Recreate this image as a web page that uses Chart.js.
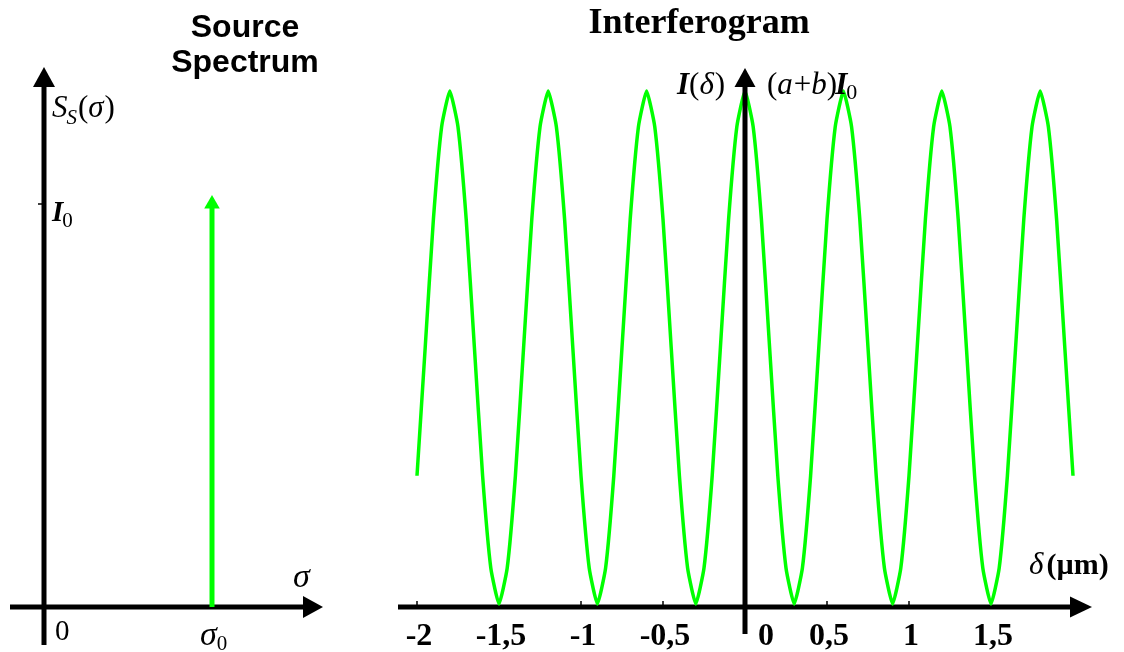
<!DOCTYPE html>
<html>
<head>
<meta charset="utf-8">
<script src="https://cdn.jsdelivr.net/npm/chart.js@4.4.1/dist/chart.umd.min.js"></script>
<style>
  html, body { margin: 0; padding: 0; background: #ffffff; }
  #wrap { position: relative; width: 1124px; height: 652px; overflow: hidden; }
  canvas { position: absolute; left: 0; top: 0; }
</style>
</head>
<body>
<div id="wrap">
  <canvas id="spectrum" width="1124" height="652"></canvas>
  <canvas id="interferogram" width="1124" height="652"></canvas>
</div>
<script>
// ---------- DATA ----------
// Source spectrum: a single monochromatic line at sigma0 with intensity I0 (relative units)
const sourceWavenumber = [1];      // sigma0
const sourceIntensity = [1];       // I0

// Interferogram I(delta), delta in micrometres, intensity relative to (a+b)I0
const opticalPathDifference = [
  -2.00, -1.95, -1.90, -1.85, -1.80, -1.75, -1.70, -1.65, -1.60, -1.55,
  -1.50, -1.45, -1.40, -1.35, -1.30, -1.25, -1.20, -1.15, -1.10, -1.05,
  -1.00, -0.95, -0.90, -0.85, -0.80, -0.75, -0.70, -0.65, -0.60, -0.55,
  -0.50, -0.45, -0.40, -0.35, -0.30, -0.25, -0.20, -0.15, -0.10, -0.05,
   0.00,  0.05,  0.10,  0.15,  0.20,  0.25,  0.30,  0.35,  0.40,  0.45,
   0.50,  0.55,  0.60,  0.65,  0.70,  0.75,  0.80,  0.85,  0.90,  0.95,
   1.00,  1.05,  1.10,  1.15,  1.20,  1.25,  1.30,  1.35,  1.40,  1.45,
   1.50,  1.55,  1.60,  1.65,  1.70,  1.75,  1.80,  1.85,  1.90,  1.95,
   2.00
];
const interferogramIntensity = [
  0.25, 0.50, 0.75, 0.93, 1.00, 0.93, 0.75, 0.50, 0.25, 0.07,
  0.00, 0.07, 0.25, 0.50, 0.75, 0.93, 1.00, 0.93, 0.75, 0.50,
  0.25, 0.07, 0.00, 0.07, 0.25, 0.50, 0.75, 0.93, 1.00, 0.93,
  0.75, 0.50, 0.25, 0.07, 0.00, 0.07, 0.25, 0.50, 0.75, 0.93,
  1.00, 0.93, 0.75, 0.50, 0.25, 0.07, 0.00, 0.07, 0.25, 0.50,
  0.75, 0.93, 1.00, 0.93, 0.75, 0.50, 0.25, 0.07, 0.00, 0.07,
  0.25, 0.50, 0.75, 0.93, 1.00, 0.93, 0.75, 0.50, 0.25, 0.07,
  0.00, 0.07, 0.25, 0.50, 0.75, 0.93, 1.00, 0.93, 0.75, 0.50,
  0.25
];

// Tick labels of the delta axis
const deltaTickValues = [-2, -1.5, -1, -0.5, 0, 0.5, 1, 1.5];
const deltaTickLabels = ['-2', '-1,5', '-1', '-0,5', '0', '0,5', '1', '1,5'];

// ---------- HELPERS ----------
const GREEN = '#00ff00';
const SERIF = '"Liberation Serif", "Times New Roman", serif';
const SANS = '"Liberation Sans", Arial, sans-serif';

function arrow(ctx, x1, y1, x2, y2, lw, headLen, headW) {
  const dx = x2 - x1, dy = y2 - y1;
  const len = Math.hypot(dx, dy);
  const ux = dx / len, uy = dy / len;
  const bx = x2 - ux * headLen, by = y2 - uy * headLen;
  ctx.save();
  ctx.strokeStyle = '#000';
  ctx.fillStyle = '#000';
  ctx.lineWidth = lw;
  ctx.lineCap = 'butt';
  ctx.beginPath();
  ctx.moveTo(x1, y1);
  ctx.lineTo(bx + ux * 2, by + uy * 2);
  ctx.stroke();
  ctx.beginPath();
  ctx.moveTo(x2, y2);
  ctx.lineTo(bx - uy * headW / 2, by + ux * headW / 2);
  ctx.lineTo(bx + uy * headW / 2, by - ux * headW / 2);
  ctx.closePath();
  ctx.fill();
  ctx.restore();
}

// parts: [{t, font, dy, gap}]
function rich(ctx, parts, x, y) {
  ctx.save();
  ctx.fillStyle = '#000';
  ctx.textBaseline = 'alphabetic';
  ctx.textAlign = 'left';
  let cx = x;
  for (const p of parts) {
    ctx.font = p.font;
    ctx.fillText(p.t, cx, y + (p.dy || 0));
    cx += ctx.measureText(p.t).width + (p.gap || 0);
  }
  ctx.restore();
}

function text(ctx, t, font, x, y, align) {
  ctx.save();
  ctx.fillStyle = '#000';
  ctx.font = font;
  ctx.textAlign = align || 'left';
  ctx.textBaseline = 'alphabetic';
  ctx.fillText(t, x, y);
  ctx.restore();
}

// ---------- LEFT: SOURCE SPECTRUM ----------
const spectrumAxes = {
  id: 'spectrumAxes',
  beforeDatasetsDraw(chart) {
    const ctx = chart.ctx;
    const xs = chart.scales.x, ys = chart.scales.y;
    const x0 = xs.getPixelForValue(0);
    const y0 = ys.getPixelForValue(0);
    arrow(ctx, x0, y0 + 38, x0, 67, 5, 20, 22);
    arrow(ctx, x0 - 34, y0, 323, y0, 5, 20, 22);
    const yI = ys.getPixelForValue(sourceIntensity[0]);
    ctx.save();
    ctx.strokeStyle = '#000';
    ctx.lineWidth = 1.5;
    ctx.beginPath();
    ctx.moveTo(x0 - 6, yI);
    ctx.lineTo(x0, yI);
    ctx.stroke();
    ctx.restore();
  },
  afterDraw(chart) {
    const ctx = chart.ctx;
    const xs = chart.scales.x, ys = chart.scales.y;
    const x0 = xs.getPixelForValue(0);
    const y0 = ys.getPixelForValue(0);
    const yI = ys.getPixelForValue(sourceIntensity[0]);
    const xS = xs.getPixelForValue(sourceWavenumber[0]);
    text(ctx, 'Source', 'bold 32px ' + SANS, 245, 37, 'center');
    text(ctx, 'Spectrum', 'bold 32px ' + SANS, 245, 72, 'center');
    rich(ctx, [
      { t: 'S', font: 'italic 31px ' + SERIF, gap: -1 },
      { t: 'S', font: 'italic 21px ' + SERIF, dy: 7, gap: 1 },
      { t: '(', font: '31px ' + SERIF },
      { t: 'σ', font: 'italic 31px ' + SERIF, gap: 1 },
      { t: ')', font: '31px ' + SERIF }
    ], x0 + 8, 117);
    rich(ctx, [
      { t: 'I', font: 'bold italic 29px ' + SERIF, gap: -1 },
      { t: '0', font: '21px ' + SERIF, dy: 6 }
    ], x0 + 8, yI + 17);
    text(ctx, '0', '29px ' + SERIF, x0 + 11, y0 + 33);
    text(ctx, 'σ', 'italic 34px ' + SERIF, 293, y0 - 20);
    rich(ctx, [
      { t: 'σ', font: 'italic 34px ' + SERIF },
      { t: '0', font: '21px ' + SERIF, dy: 5 }
    ], xS - 12, y0 + 38);
  }
};

new Chart(document.getElementById('spectrum'), {
  type: 'scatter',
  data: {
    datasets: [{
      data: [
        { x: sourceWavenumber[0], y: 0 },
        { x: sourceWavenumber[0], y: sourceIntensity[0] }
      ],
      showLine: true,
      borderColor: GREEN,
      borderWidth: 5,
      borderCapStyle: 'butt',
      pointStyle: 'triangle',
      pointRadius: [0, 9],
      pointHoverRadius: [0, 9],
      pointBackgroundColor: GREEN,
      pointBorderColor: GREEN,
      pointBorderWidth: 0,
      clip: false
    }]
  },
  options: {
    responsive: false,
    animation: false,
    events: [],
    layout: { padding: { left: 44, right: 828, top: 204, bottom: 45 } },
    plugins: { legend: { display: false }, tooltip: { enabled: false } },
    scales: {
      x: { type: 'linear', display: false, min: 0, max: 1.5 },
      y: { type: 'linear', display: false, min: 0, max: 1 }
    }
  },
  plugins: [spectrumAxes]
});

// ---------- RIGHT: INTERFEROGRAM ----------
const interferogramAxes = {
  id: 'interferogramAxes',
  beforeDatasetsDraw(chart) {
    const ctx = chart.ctx;
    const xs = chart.scales.x, ys = chart.scales.y;
    const yAxis = ys.getPixelForValue(0) + 3;
    arrow(ctx, xs.getPixelForValue(-2) - 19, yAxis, 1092, yAxis, 5, 22, 21);
    ctx.save();
    ctx.strokeStyle = '#000';
    ctx.lineWidth = 1.5;
    for (const v of deltaTickValues) {
      if (v === 0) continue;
      const px = xs.getPixelForValue(v);
      ctx.beginPath();
      ctx.moveTo(px, yAxis);
      ctx.lineTo(px, yAxis - 6);
      ctx.stroke();
    }
    ctx.restore();
  },
  afterDatasetsDraw(chart) {
    const ctx = chart.ctx;
    const xs = chart.scales.x, ys = chart.scales.y;
    const x0 = xs.getPixelForValue(0);
    const yAxis = ys.getPixelForValue(0) + 3;
    arrow(ctx, x0, yAxis + 27, x0, 68, 5, 19, 21);
    text(ctx, 'Interferogram', 'bold 36px ' + SERIF, 699, 33, 'center');
    rich(ctx, [
      { t: 'I', font: 'bold italic 31px ' + SERIF },
      { t: '(', font: '31px ' + SERIF },
      { t: 'δ', font: 'italic 31px ' + SERIF, gap: 1 },
      { t: ')', font: '31px ' + SERIF }
    ], x0 - 68, 94);
    rich(ctx, [
      { t: '(', font: '31px ' + SERIF },
      { t: 'a', font: 'italic 31px ' + SERIF, gap: 1 },
      { t: '+', font: '31px ' + SERIF },
      { t: 'b', font: 'italic 31px ' + SERIF },
      { t: ')', font: '31px ' + SERIF, gap: -2 },
      { t: 'I', font: 'bold italic 31px ' + SERIF, gap: -1 },
      { t: '0', font: '22px ' + SERIF, dy: 5 }
    ], x0 + 22, 94);
    rich(ctx, [
      { t: 'δ', font: 'italic 31px ' + SERIF, gap: 3 },
      { t: '(µm)', font: 'bold 30px ' + SERIF }
    ], 1029, 574);
    for (let i = 0; i < deltaTickValues.length; i++) {
      const v = deltaTickValues[i];
      const px = xs.getPixelForValue(v) + (v === 0 ? 21 : 2);
      text(ctx, deltaTickLabels[i], 'bold 32px ' + SERIF, px, 645, 'center');
    }
  }
};

new Chart(document.getElementById('interferogram'), {
  type: 'line',
  data: {
    datasets: [{
      data: opticalPathDifference.map((d, i) => ({ x: d, y: interferogramIntensity[i] })),
      borderColor: GREEN,
      borderWidth: 3.5,
      tension: 0.15,
      pointRadius: 0,
      fill: false,
      clip: false
    }]
  },
  options: {
    responsive: false,
    animation: false,
    events: [],
    layout: { padding: { left: 417, right: 51, top: 91, bottom: 48 } },
    plugins: { legend: { display: false }, tooltip: { enabled: false } },
    scales: {
      x: { type: 'linear', display: false, min: -2, max: 2 },
      y: { type: 'linear', display: false, min: 0, max: 1 }
    }
  },
  plugins: [interferogramAxes]
});
</script>
</body>
</html>
